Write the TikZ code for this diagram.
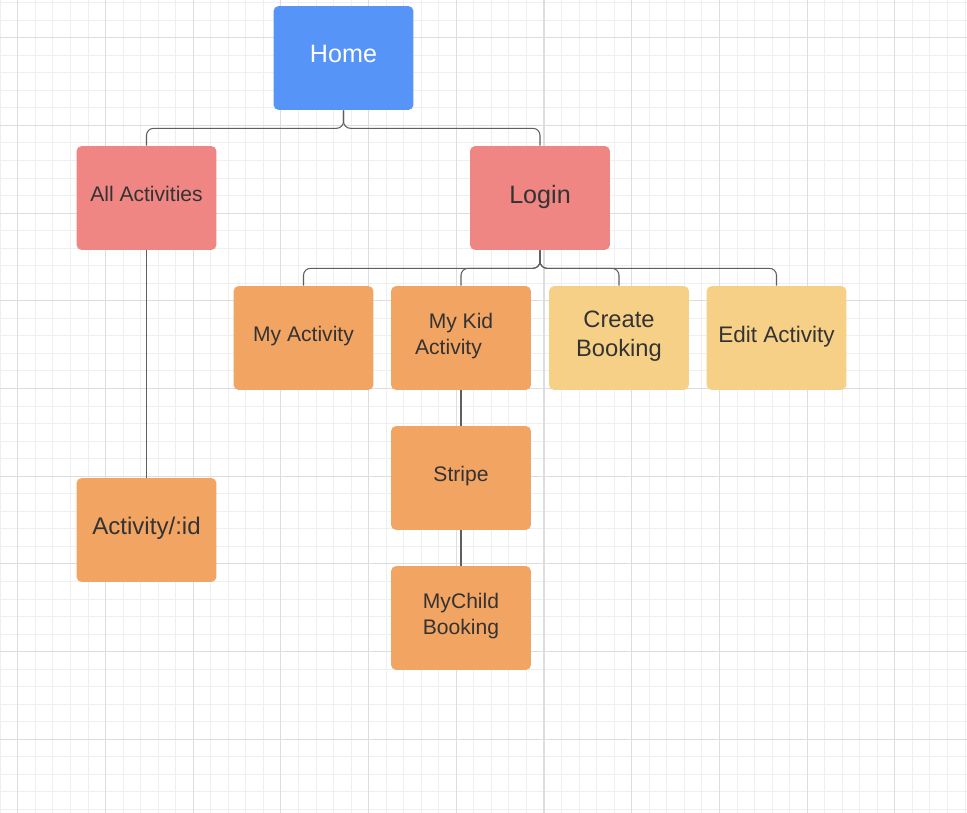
\documentclass[tikz,border=0pt]{standalone}
\usepackage{fontspec}
\setmainfont{Liberation Sans}
\usepackage{tikz}
\usetikzlibrary{positioning}
\definecolor{HomeBlue}{HTML}{5794F7}
\definecolor{PageRed}{HTML}{EF8683}
\definecolor{PageOrange}{HTML}{F2A463}
\definecolor{PageYellow}{HTML}{F7D088}
\definecolor{LabelGrey}{HTML}{333333}
\definecolor{LinkGrey}{HTML}{5F5F5F}
\definecolor{GridMinor}{HTML}{EFEFEF}
\definecolor{GridMajor}{HTML}{DDDDDD}

\begin{document}
\begin{tikzpicture}[x=0.02cm, y=-0.02cm,
  page/.style={rounded corners=3pt, minimum width=2.8cm, minimum height=2.08cm, text=LabelGrey, align=center, inner sep=2pt, text depth=4.5pt, font=\fontsize{12}{14.5}\selectfont},
  big/.style={font=\fontsize{14.3}{17}\selectfont},
  link/.style={LinkGrey, line width=0.6pt, rounded corners=4pt},
]
  \useasboundingbox[fill=white] (0,0) rectangle (967,813);
  % grid paper
  \foreach \i in {0,...,55} { \draw[GridMinor, line width=0.5pt] ({0.26+17.54*\i},0) -- ({0.26+17.54*\i},813); }
  \foreach \j in {0,...,46} { \draw[GridMinor, line width=0.5pt] (0,{2.6+17.54*\j}) -- (967,{2.6+17.54*\j}); }
  \foreach \k in {0,...,10} { \draw[GridMajor, line width=0.6pt] ({17.8+87.7*\k},0) -- ({17.8+87.7*\k},813); }
  \foreach \k in {0,...,8} { \draw[GridMajor, line width=0.6pt] (0,{37.7+87.7*\k}) -- (967,{37.7+87.7*\k}); }

  % pages
  \node[page, big, fill=HomeBlue, text=white] (home) at (343.5, 58) {Home};
  \node[page, fill=PageRed] (allact) at (146.5, 198) {All Activities};
  \node[page, big, fill=PageRed] (login) at (540, 198) {Login};
  \node[page, fill=PageOrange] (myact) at (303.5, 338) {My Activity};
  \node[page, fill=PageOrange] (mykid) at (461, 338) {My Kid\\Activity\hspace*{0.5cm}};
  \node[page, fill=PageYellow, font=\fontsize{13.5}{16.5}\selectfont] (create) at (619, 338) {Create\\Booking};
  \node[page, fill=PageYellow, font=\fontsize{12.8}{15}\selectfont] (edit) at (776.5, 338) {Edit Activity};
  \node[page, fill=PageOrange] (stripe) at (461, 478) {Stripe};
  \node[page, fill=PageOrange] (mychild) at (461, 618) {MyChild\\Booking};
  \node[page, fill=PageOrange, font=\fontsize{13.7}{16}\selectfont] (actid) at (146.5, 530) {Activity/:id};

  % links
  \foreach \c in {allact, login}
    \draw[link] (home.south) -- ++(0,18) -| (\c.north);
  \foreach \c in {myact, mykid, create, edit}
    \draw[link] (login.south) -- ++(0,18) -| (\c.north);
  \draw[link] (allact) -- (actid);
  \draw[link] (mykid) -- (stripe);
  \draw[link] (stripe) -- (mychild);
\end{tikzpicture}
\end{document}
